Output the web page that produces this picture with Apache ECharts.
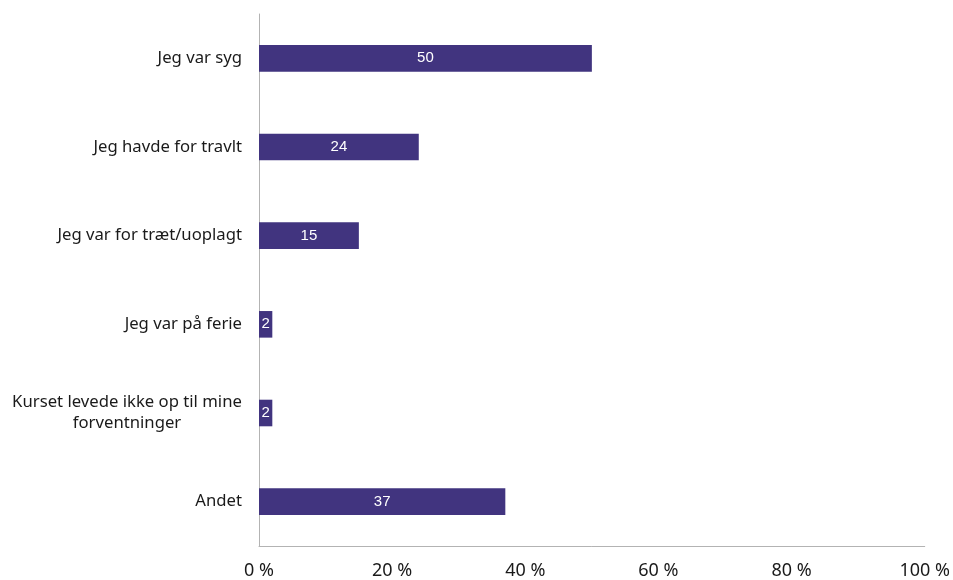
<!DOCTYPE html>
<html>
<head>
<meta charset="utf-8">
<script src="https://cdn.jsdelivr.net/npm/echarts@6/dist/echarts.min.js"></script>
<style>
  html, body { margin: 0; padding: 0; background: #fff; }
  #chart { width: 953px; height: 580px; }
</style>
</head>
<body>
<div id="chart"></div>
<script>
// Reasons for not completing the course (share of respondents, %)
const categories = [
  'Jeg var syg',
  'Jeg havde for travlt',
  'Jeg var for træt/uoplagt',
  'Jeg var på ferie',
  'Kurset levede ikke op til mine\nforventninger',
  'Andet'
];
const values = [50, 24, 15, 2, 2, 37];
const xTicks = { min: 0, max: 100, step: 20, suffix: ' %' };

const chart = echarts.init(document.getElementById('chart'));

chart.setOption({
  animation: false,
  grid: { left: 259, right: 25, top: 14, bottom: 32, containLabel: false },
  xAxis: {
    type: 'value',
    min: xTicks.min,
    max: xTicks.max,
    interval: xTicks.step,
    axisLine: { show: true, lineStyle: { color: '#b3b3b3', width: 1 } },
    axisTick: { show: false },
    splitLine: { show: false },
    axisLabel: {
      margin: 16,
      color: '#1a1a1a',
      fontFamily: '"Liberation Sans Narrow", "Noto Sans"',
      fontSize: 18,
      formatter: v => v + xTicks.suffix
    }
  },
  yAxis: {
    type: 'category',
    inverse: true,
    data: categories,
    axisLine: { show: true, lineStyle: { color: '#b3b3b3', width: 1 } },
    axisTick: { show: false },
    axisLabel: {
      margin: 17,
      color: '#1a1a1a',
      fontFamily: 'Noto Sans',
      fontSize: 16.7,
      lineHeight: 21,
      formatter: function (v) {
        if (v.indexOf('\n') >= 0) {
          return v.split('\n').map(s => '{c|' + s + '}').join('\n');
        }
        return v;
      },
      rich: {
        c: { width: 230, align: 'center', fontFamily: 'Noto Sans', fontSize: 16.7, color: '#1a1a1a', lineHeight: 21 }
      }
    }
  },
  series: [{
    type: 'bar',
    data: values,
    barCategoryGap: '70%',
    itemStyle: { color: '#41347f' },
    label: {
      show: true,
      position: 'inside',
      color: '#fff',
      fontFamily: 'Liberation Sans',
      fontSize: 15
    }
  }]
});
</script>
</body>
</html>
